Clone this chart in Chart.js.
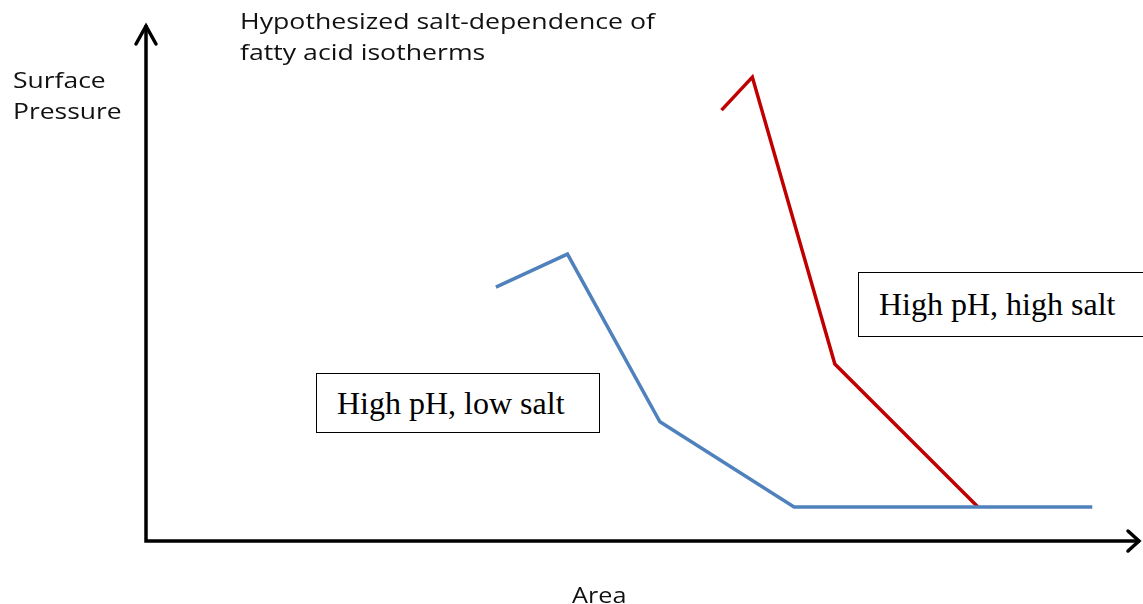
<!DOCTYPE html>
<html>
<head>
<meta charset="utf-8">
<script src="https://cdn.jsdelivr.net/npm/chart.js@4"></script>
<style>
  html, body { margin: 0; padding: 0; background: #fff; }
  #wrap { position: relative; width: 1143px; height: 604px; overflow: hidden; }
  canvas { position: absolute; left: 0; top: 0; }
  .lbl { position: absolute; font-family: "Open Sans", sans-serif; font-size: 21px; color: #111; line-height: 31px; white-space: nowrap; transform-origin: 0 0; }
  .box { position: absolute; border: 1.5px solid #000; background: #fff; font-family: "Liberation Serif", "Times New Roman", serif; font-size: 32px; color: #000; white-space: nowrap; box-sizing: border-box; line-height: normal; }
</style>
</head>
<body>
<div id="wrap">
  <canvas id="c" width="1143" height="604"></canvas>
  <div class="lbl" id="title" style="left:240px; top:6px; transform: scaleX(1.27);">Hypothesized salt-dependence of<br>fatty acid isotherms</div>
  <div class="lbl" id="ylab" style="left:13px; top:65px; transform: scaleX(1.26);">Surface<br>Pressure</div>
  <div class="lbl" id="xlab" style="left:572px; top:580px; transform: scaleX(1.2);">Area</div>
  <div class="box" id="box1" style="left:316px; top:373px; width:284px; height:60px; padding:11px 0 0 20px;">High pH, low salt</div>
  <div class="box" id="box2" style="left:858px; top:272px; width:300px; height:65px; padding:13px 0 0 20px;">High pH, high salt</div>
</div>
<script>
// Series data (Area on x, Surface Pressure on y; arbitrary units 0-100)
const lowSaltArea     = [35.2, 42.4, 51.7, 65.2, 95.2];
const lowSaltPressure = [49.2, 55.6, 23.1, 6.6, 6.6];
const highSaltArea     = [57.9, 61.0, 69.3, 83.7];
const highSaltPressure = [83.5, 89.9, 34.3, 6.6];
const seriesNames = ["High pH, low salt", "High pH, high salt"];

function toPoints(xs, ys) { return xs.map((x, i) => ({ x: x, y: ys[i] })); }

const axesArrows = {
  id: 'axesArrows',
  afterDraw(chart) {
    const ctx = chart.ctx;
    const a = chart.chartArea;
    ctx.save();
    ctx.strokeStyle = '#000';
    ctx.lineWidth = 3.5;
    ctx.lineCap = 'square';
    ctx.beginPath();
    ctx.moveTo(a.left, a.top + 2);
    ctx.lineTo(a.left, a.bottom);
    ctx.lineTo(a.right - 2, a.bottom);
    ctx.stroke();
    ctx.lineCap = 'round';
    ctx.lineJoin = 'miter';
    ctx.beginPath();
    ctx.moveTo(a.left - 10, a.top + 19);
    ctx.lineTo(a.left, a.top + 1);
    ctx.lineTo(a.left + 10, a.top + 19);
    ctx.stroke();
    ctx.beginPath();
    ctx.moveTo(a.right - 12, a.bottom - 10);
    ctx.lineTo(a.right - 1, a.bottom);
    ctx.lineTo(a.right - 12, a.bottom + 10);
    ctx.stroke();
    ctx.restore();
  }
};

new Chart(document.getElementById('c'), {
  type: 'line',
  data: {
    datasets: [
      { label: seriesNames[0], data: toPoints(lowSaltArea, lowSaltPressure), borderColor: '#4f81bd', borderWidth: 3.5, pointRadius: 0, tension: 0, fill: false },
      { label: seriesNames[1], data: toPoints(highSaltArea, highSaltPressure), borderColor: '#c00000', borderWidth: 3.5, pointRadius: 0, tension: 0, fill: false }
    ]
  },
  options: {
    responsive: false,
    animation: false,
    events: [],
    layout: { padding: { left: 146, right: 3, top: 25, bottom: 63 } },
    plugins: { legend: { display: false }, tooltip: { enabled: false }, title: { display: false } },
    scales: {
      x: { type: 'linear', min: 0, max: 100, display: false },
      y: { type: 'linear', min: 0, max: 100, display: false }
    }
  },
  plugins: [axesArrows]
});
</script>
</body>
</html>
